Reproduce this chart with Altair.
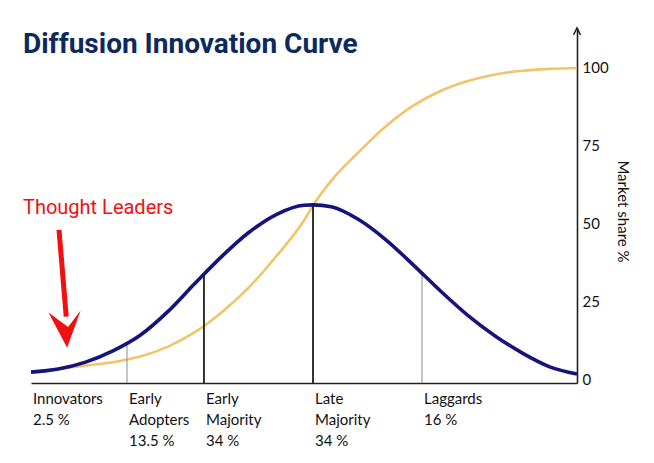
import altair as alt
import pandas as pd

# ---------------- data ----------------
# horizontal "time" position: 0 = left end of baseline, 100 = right axis
t_points = [0, 5, 10, 15, 20, 25, 30, 35, 40, 45, 50, 51.65, 55, 60, 65, 70, 75, 80, 85, 90, 95, 100]
adopters = [2.2, 3.2, 5.4, 9.0, 14.0, 21.5, 30.6, 39.4, 47.1, 52.8, 55.7, 55.8, 55.2, 51.1, 44.6,
            36.6, 28.2, 20.4, 13.8, 8.3, 3.9, 1.6]
market_share = [2.2, 3.2, 4.3, 5.4, 7.2, 10.3, 15.0, 21.5, 29.5, 39.5, 50.8, 55.6, 63.6, 72.7, 81.0,
                87.6, 92.3, 95.5, 97.6, 98.8, 99.4, 99.7]

segment_labels = ["Innovators\n2.5 %", "Early\nAdopters\n13.5 %", "Early\nMajority\n34 %",
                  "Late\nMajority\n34 %", "Laggards\n16 %"]
segment_start = [0, 17.58, 31.68, 51.65, 71.61]

boundary_t = [17.58, 31.68, 51.65, 71.61]
boundary_top = [11.2, 33.3, 55.8, 33.3]
boundary_kind = ["minor", "major", "major", "minor"]

y_ticks = [0, 25, 50, 75, 100]

title_text = ["Diffusion Innovation Curve"]

# annotation ("Thought Leaders" arrow), in data units
note_text = ["Thought Leaders"]
note_pos = [(-1.47, 54.8)]
arrow_shaft = [(5.13, 47.8, 6.45, 20.0)]
arrow_head = [(6.14, 16.0)]
axis_tip = [(100, 111.4)]

# ---------------- frames ----------------
curves = pd.DataFrame({"t": t_points, "adopters": adopters, "share": market_share})
segs = pd.DataFrame({"t": segment_start, "label": segment_labels})
bounds = pd.DataFrame({"t": boundary_t, "top": boundary_top, "kind": boundary_kind})
titles = pd.DataFrame({"text": title_text})
note = pd.DataFrame({"t": [p[0] for p in note_pos], "v": [p[1] for p in note_pos], "text": note_text})
shaft = pd.DataFrame({"x0": [a[0] for a in arrow_shaft], "y0": [a[1] for a in arrow_shaft],
                      "x1": [a[2] for a in arrow_shaft], "y1": [a[3] for a in arrow_shaft]})
head = pd.DataFrame({"t": [h[0] for h in arrow_head], "v": [h[1] for h in arrow_head]})
tip = pd.DataFrame({"t": [h[0] for h in axis_tip], "v": [h[1] for h in axis_tip]})

W, H = 546, 355
xscale = alt.Scale(domain=[0, 100], nice=False, zero=False)
yscale = alt.Scale(domain=[-1.28, 112.5], nice=False, zero=False)

X = alt.X("t:Q", scale=xscale,
          axis=alt.Axis(labels=False, ticks=False, grid=False, title="", domainColor="#222",
                        domainWidth=1.6))

base = alt.Chart(curves)

rules_minor = alt.Chart(bounds).transform_filter(alt.datum.kind == "minor").mark_rule(
    color="#8c8c8c", strokeWidth=1).encode(
    x=alt.X("t:Q", scale=xscale), y=alt.Y("top:Q", scale=yscale), y2=alt.value(H))
rules_major = alt.Chart(bounds).transform_filter(alt.datum.kind == "major").mark_rule(
    color="#111111", strokeWidth=1.7).encode(
    x=alt.X("t:Q", scale=xscale), y=alt.Y("top:Q", scale=yscale), y2=alt.value(H))

share_line = base.mark_line(color="#f1c46a", strokeWidth=2.6, interpolate="monotone").encode(
    x=X,
    y=alt.Y("share:Q", scale=yscale,
            axis=alt.Axis(orient="right", values=y_ticks, ticks=False, grid=False,
                          labelPadding=5, labelFont="Lato", labelFontSize=15,
                          labelColor="#111", labelBaseline="middle",
                          domainColor="#222", domainWidth=1.6,
                          title="Market share %", titleFont="Lato", titleFontSize=15,
                          titleFontWeight="normal", titleColor="#111", titleAngle=90,
                          titleX=45, titleY=183, titleAlign="center", titleBaseline="middle")),
)
adopt_line = base.mark_line(color="#14147c", strokeWidth=3.6, interpolate="monotone").encode(
    x=alt.X("t:Q", scale=xscale), y=alt.Y("adopters:Q", scale=yscale))

labels = alt.Chart(segs).mark_text(align="left", baseline="top", dx=2, font="Lato", fontSize=15,
                                   color="#111", lineBreak="\n", lineHeight=21).encode(
    x=alt.X("t:Q", scale=xscale), y=alt.value(364), text="label:N")

title_mark = alt.Chart(titles).mark_text(align="left", baseline="alphabetic", font="Roboto",
                                         fontSize=28, fontWeight="bold", color="#0d2a5c").encode(
    x=alt.value(-8), y=alt.value(25), text="text:N")

note_mark = alt.Chart(note).mark_text(align="left", baseline="middle", font="Roboto", fontSize=20,
                                      color="#f01010").encode(
    x=alt.X("t:Q", scale=xscale), y=alt.Y("v:Q", scale=yscale), text="text:N")

shaft_mark = alt.Chart(shaft).mark_rule(color="#f01010", strokeWidth=5).encode(
    x=alt.X("x0:Q", scale=xscale), x2="x1:Q", y=alt.Y("y0:Q", scale=yscale), y2="y1:Q")

head_mark = alt.Chart(head).mark_point(
    shape="M0.14,1 L-0.86,-0.89 L0.19,-0.11 L0.86,-1 Z", filled=True, fill="#f01010",
    strokeWidth=0, opacity=1, size=1400).encode(
    x=alt.X("t:Q", scale=xscale), y=alt.Y("v:Q", scale=yscale))

tip_mark = alt.Chart(tip).mark_point(
    shape="M-1,1 L0,-1 L1,1", filled=False, stroke="#222", strokeWidth=1.5, opacity=1,
    size=49).encode(
    x=alt.X("t:Q", scale=xscale), y=alt.Y("v:Q", scale=yscale))

chart = alt.layer(
    share_line, rules_minor, rules_major, adopt_line, labels, title_mark, note_mark, shaft_mark,
    head_mark, tip_mark
).properties(
    width=W, height=H,
    autosize=alt.AutoSizeParams(type="none"),
    padding={"left": 23, "top": 20, "right": 69, "bottom": 70},
).configure(background="white").configure_view(strokeWidth=0)

chart.save("out.html", embed_options={"renderer": "svg", "actions": False})
